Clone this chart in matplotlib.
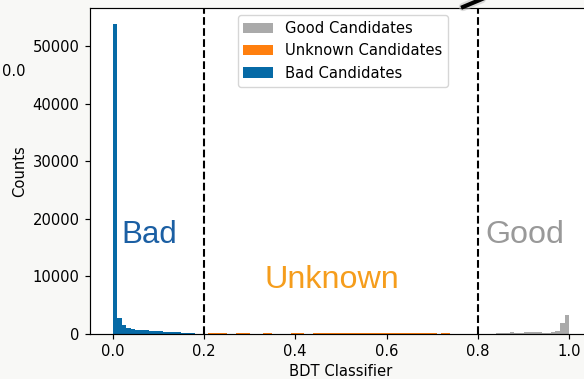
import numpy as np
import matplotlib
matplotlib.use("Agg")
import matplotlib.pyplot as plt
from matplotlib.lines import Line2D

# Histogram bins (width 0.01) and counts per candidate class
bad_edges = np.round(np.arange(0.0, 0.2001, 0.01), 2)
bad_counts = [53900, 2700, 1650, 1050, 810, 690, 690, 640, 580, 520,
              520, 400, 400, 350, 290, 230, 170, 120, 80, 50]

unknown_edges = np.round(np.arange(0.2, 0.8001, 0.01), 2)
unknown_counts = [60, 90, 120, 150, 110, 80, 70, 90, 130, 100,
                  80, 70, 60, 90, 110, 80, 70, 60, 80, 100,
                  120, 90, 70, 80, 100, 120, 140, 110, 90, 100,
                  130, 150, 120, 100, 90, 110, 140, 160, 130, 110,
                  120, 150, 170, 140, 120, 100, 130, 150, 120, 100,
                  90, 80, 110, 90, 70, 60, 80, 70, 50, 40]

good_edges = np.round(np.arange(0.8, 1.0001, 0.01), 2)
good_counts = [30, 40, 60, 80, 150, 200, 250, 280, 260, 250,
               280, 320, 330, 280, 260, 250, 320, 560, 1850, 3300]

thresholds = [0.2, 0.8]

BLUE = "#066aa6"
ORANGE = "#ff7f0e"
GRAY = "#aaaaaa"
BG = "#f8f8f6"

FS = 10.6
plt.rcParams["font.family"] = ["DejaVu Sans"]
plt.rcParams["font.size"] = FS
plt.rcParams["xtick.major.size"] = 3.7
plt.rcParams["ytick.major.size"] = 3.7
plt.rcParams["xtick.major.pad"] = 3.7
plt.rcParams["ytick.major.pad"] = 3.7
plt.rcParams["axes.linewidth"] = 0.85
plt.rcParams["xtick.major.width"] = 0.85
plt.rcParams["ytick.major.width"] = 0.85

fig = plt.figure(figsize=(5.84, 3.79), dpi=100, facecolor=BG)
ax = fig.add_axes([0.1536, 0.1187, 0.8601, 0.8602])
ax.set_facecolor("white")


def centers(edges):
    e = np.asarray(edges)
    return (e[:-1] + e[1:]) / 2


ax.hist(centers(bad_edges), bins=bad_edges, weights=bad_counts,
        color=BLUE, label="Bad Candidates")
ax.hist(centers(unknown_edges), bins=unknown_edges, weights=unknown_counts,
        color=ORANGE, label="Unknown Candidates")
ax.hist(centers(good_edges), bins=good_edges, weights=good_counts,
        color=GRAY, label="Good Candidates")

for t in thresholds:
    ax.axvline(t, color="black", ls="--", lw=1.5)

ax.set_xlim(-0.05, 1.05)
ax.set_ylim(0, max(bad_counts) * 1.05)
ax.set_xticks([0.0, 0.2, 0.4, 0.6, 0.8, 1.0])
ax.set_yticks([0, 10000, 20000, 30000, 40000, 50000])
ax.set_xlabel("BDT Classifier", labelpad=3.5)
ax.set_ylabel("Counts", labelpad=4)

handles, labels = ax.get_legend_handles_labels()
ax.legend(handles[::-1], labels[::-1], loc="upper right",
          bbox_to_anchor=(0.713, 0.978), borderaxespad=0.0)

ax.text(0.02, 17200, "Bad", color="#1b5fa3", fontsize=22.5,
        family="Liberation Sans", ha="left", va="center")
ax.text(0.333, 9400, "Unknown", color="#f59d1c", fontsize=23.2,
        family="Liberation Sans", ha="left", va="center")
ax.text(0.817, 17200, "Good", color="#999999", fontsize=23.2,
        family="Liberation Sans", ha="left", va="center")

# stray label and pointer line along the figure edge
fig.text(2 / 584, 1 - 72 / 379, "0.0", fontsize=FS, ha="left", va="center")
fig.add_artist(Line2D([463 / 584, 482 / 584], [1 - 7 / 379, 1 + 1 / 379],
                      transform=fig.transFigure, color="#bbbbbb", lw=6,
                      alpha=0.5, solid_capstyle="round"))
fig.add_artist(Line2D([463 / 584, 482 / 584], [1 - 7 / 379, 1 + 1 / 379],
                      transform=fig.transFigure, color="black", lw=3))

fig.savefig("out.png", dpi=100, facecolor=BG)
